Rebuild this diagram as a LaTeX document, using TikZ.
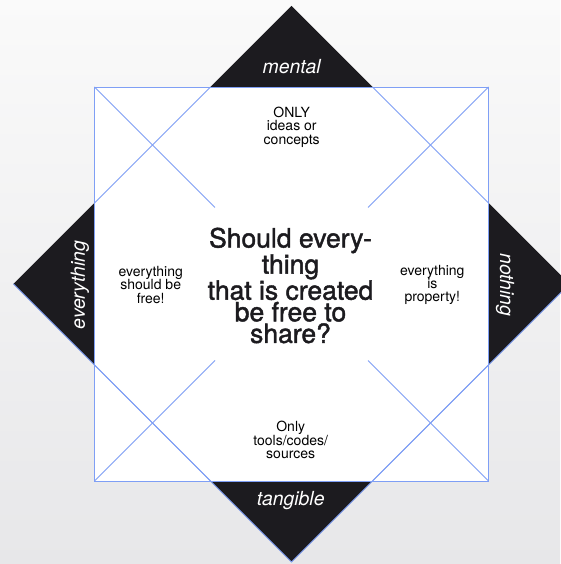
\documentclass[tikz,border=0pt]{standalone}
\usepackage{fontspec}
\setmainfont{TeX Gyre Heros}
\newfontfamily\headfont[FakeBold=1.6]{TeX Gyre Heros}
\definecolor{bgtop}{HTML}{FAFAFA}
\definecolor{bgbot}{HTML}{E7E7E9}
\definecolor{wedge}{HTML}{1C1B1F}
\definecolor{gridblue}{HTML}{7F9FF5}

\begin{document}
\begin{tikzpicture}[x=1pt, y=1pt,
    wire/.style={draw=gridblue, line width=0.8pt},
    corner/.style={text=white, font=\fontsize{19.4}{22}\selectfont\itshape, inner sep=0pt},
    side/.style={align=center, font=\fontsize{14}{13.4}\selectfont, inner sep=0pt},
    question/.style={align=center, font=\headfont\fontsize{26.5}{21.6}\selectfont, text=wedge, inner sep=0pt}]

%%%%%%%%%%%% Background
\useasboundingbox[top color=bgtop, bottom color=bgbot] (-291.5,-280) rectangle (268.5,284);

%%%%%%%%%%%% Diamond and square
\fill[wedge] (0,278) -- (278,0) -- (0,-278) -- (-278,0) -- cycle;
\fill[white] (-197,-197) rectangle (197,197);

\draw[wire] (-197,-197) rectangle (197,197);
\foreach \sx/\sy in {1/1,1/-1,-1/1,-1/-1} {
  \draw[wire] (\sx*197, \sy*197) -- (\sx*76.5, \sy*76.5);
  \draw[wire] (\sx*81, \sy*197) -- (\sx*197, \sy*81);
}
\draw[wire] (-278,0) -- (0,-278) -- (278,0);

%%%%%%%%%%%% Labels
\node[corner] (mental) at (0.2, 217.3) {mental};
\node[corner] (tangible) at (-0.8, -216.7) {tangible};
\node[corner, rotate=90] (everything) at (-211.5, -1) {everything};
\node[corner, rotate=-90] (nothing) at (213.5, -1) {nothing};

\node[side] (ideas) at (0.2, 157) {ONLY\\ideas or\\concepts};
\node[side] (tools) at (-0.8, -156) {Only\\tools/codes/\\sources};
\node[side] (free) at (-140.8, -1) {everything\\should be\\free!};
\node[side] (property) at (140.8, -1) {everything\\is\\property!};

\node[question] (share) at (-1, -1.5) {Should every-\\thing\\that is created\\be free to\\share?};
\end{tikzpicture}
\end{document}
